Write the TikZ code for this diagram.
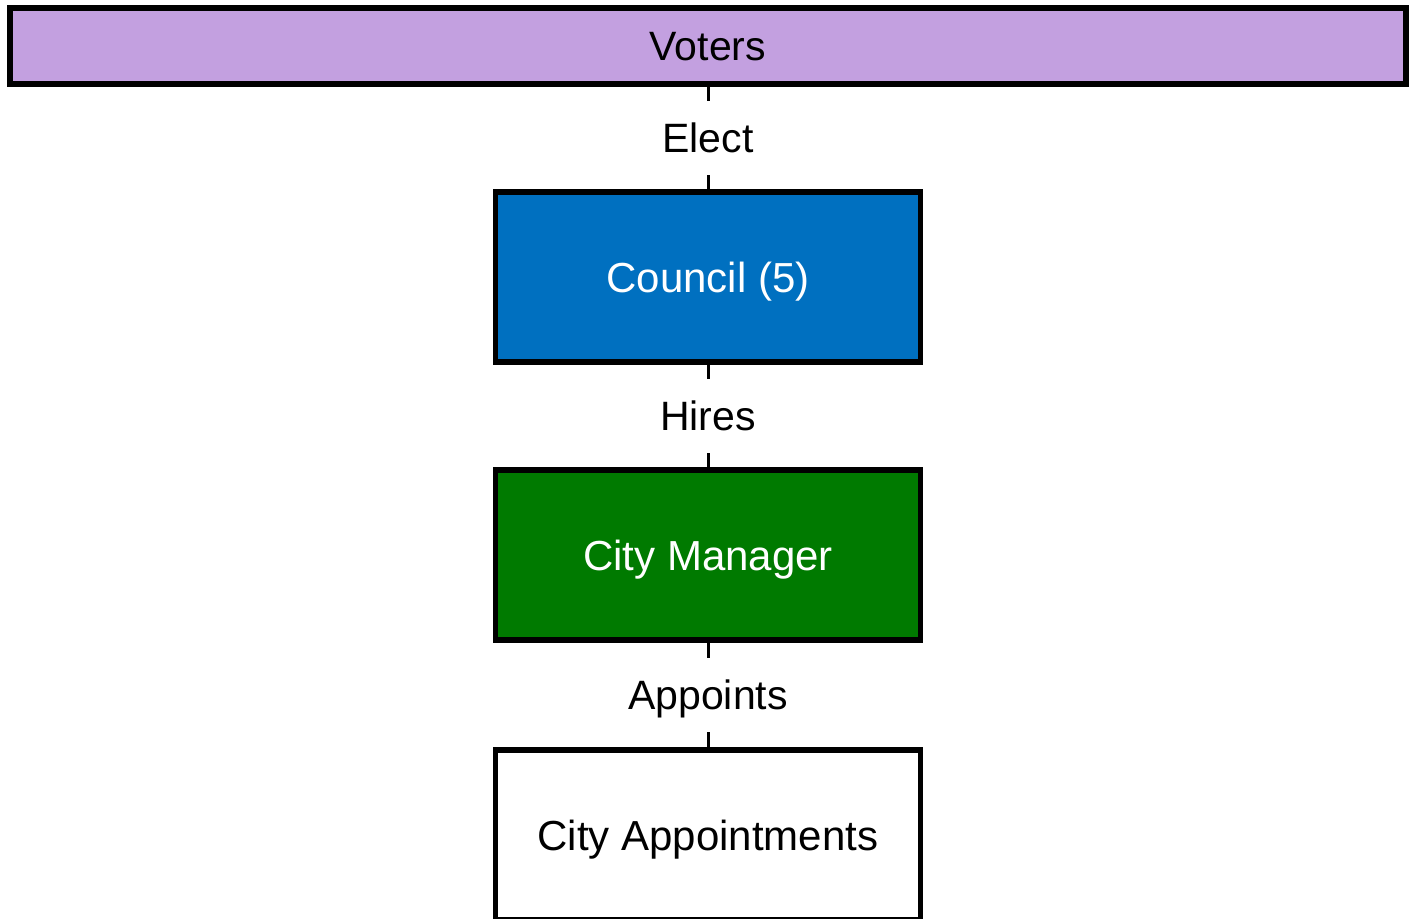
\documentclass[tikz,border=0pt]{standalone}
\usepackage{fontspec}
\setmainfont{Liberation Sans}
\usetikzlibrary{positioning}

\definecolor{votersfill}{RGB}{195,160,224}
\definecolor{councilfill}{RGB}{0,112,192}
\definecolor{managerfill}{RGB}{0,122,0}

\begin{document}
\begin{tikzpicture}[x=0.5pt,y=-0.5pt,node distance=54pt,outer sep=0pt,
      office/.style={draw,line width=2.75pt,minimum width=212.5pt,
        minimum height=85pt,text height=15pt,text depth=0pt,
        font=\fontsize{21}{25}\selectfont},
      link/.style={line width=1.5pt},
      verb/.style={fill=white,minimum height=37pt,inner sep=1pt,
        text height=14.5pt,text depth=0pt,
        font=\fontsize{20.5}{24}\selectfont}]

    \useasboundingbox (0,0) rectangle (1414,918);
    \clip (0,0) rectangle (1414,918);

    \node[draw,line width=3pt,fill=votersfill,minimum width=698pt,
      minimum height=38pt,text height=14.5pt,text depth=0pt,
      font=\fontsize{20.5}{24}\selectfont] (voters) at (708,46) {Voters};
    \node[office,fill=councilfill,text=white] (council) [below=of voters] {Council (5)};
    \node[office,fill=managerfill,text=white] (manager) [below=of council] {City Manager};
    \node[office,fill=white] (appts) [below=55pt of manager] {City Appointments};

    \path[link] (voters) edge node[verb] {Elect} (council)
    (council) edge node[verb] {Hires} (manager)
    (manager) edge node[verb] {Appoints} (appts);
  \end{tikzpicture}
\end{document}
